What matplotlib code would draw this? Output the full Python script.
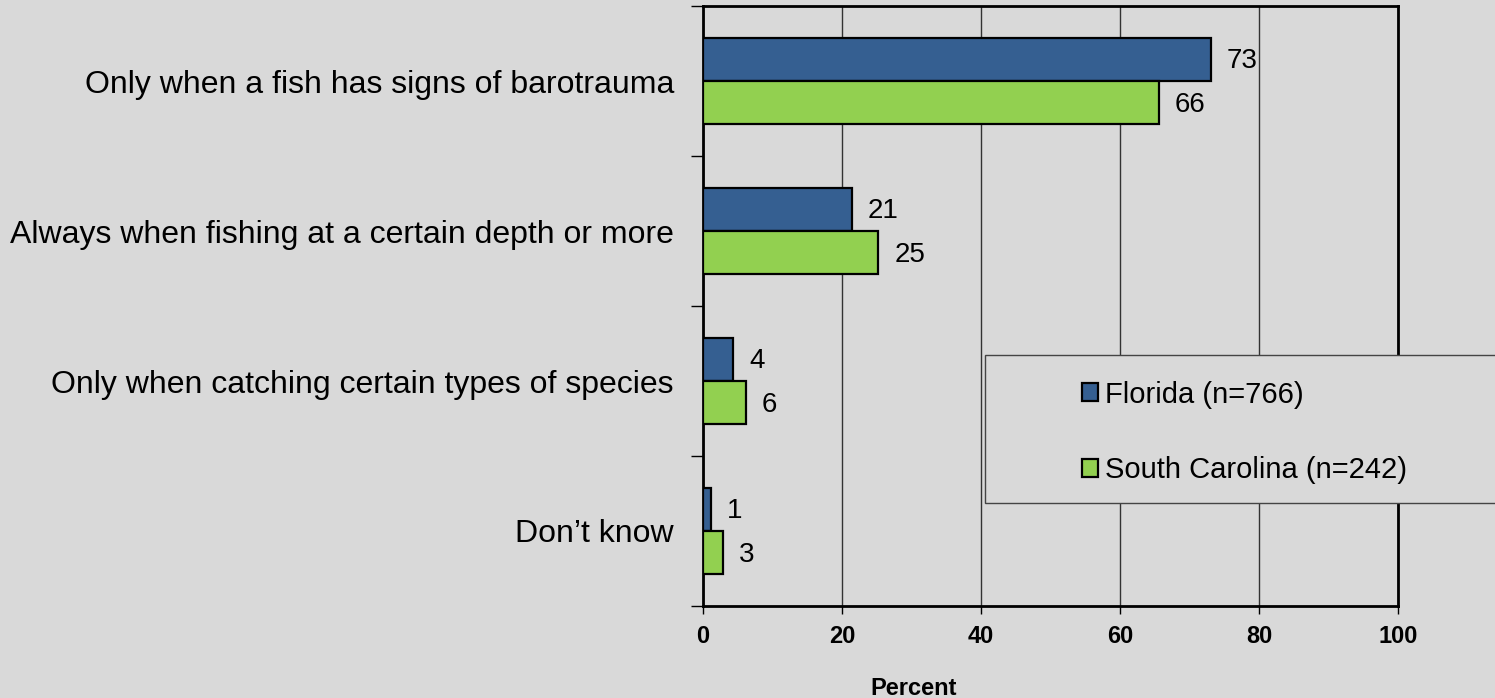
import matplotlib
matplotlib.use("Agg")
import matplotlib.pyplot as plt
import numpy as np
from matplotlib.patches import Rectangle

categories = ["Only when a fish has signs of barotrauma",
              "Always when fishing at a certain depth or more",
              "Only when catching certain types of species",
              "Don\u2019t know"]
florida = [73.1, 21.4, 4.3, 1.2]
south_carolina = [65.6, 25.2, 6.2, 2.9]
series_names = ["Florida (n=766)", "South Carolina (n=242)"]
xticks = [0, 20, 40, 60, 80, 100]

BG = "#D9D9D9"
BLUE = "#355F91"
GREEN = "#92D050"
FONT = "Liberation Sans"

plt.rcParams['font.family'] = [FONT, 'DejaVu Sans']

W, H = 1495, 698
fig = plt.figure(figsize=(W / 100, H / 100), dpi=100, facecolor=BG)
ax = fig.add_axes([703 / W, 1 - 606 / H, (1398 - 703) / W, (606 - 6) / H])
ax.set_facecolor(BG)

n = len(categories)
y = np.arange(n)
bh = 0.287
b1 = ax.barh(y - bh / 2, florida, height=bh, color=BLUE, edgecolor="black", linewidth=1.6, label=series_names[0], zorder=3)
b2 = ax.barh(y + bh / 2, south_carolina, height=bh, color=GREEN, edgecolor="black", linewidth=1.6, label=series_names[1], zorder=3)

for bars, vals in ((b1, florida), (b2, south_carolina)):
    for rect, v in zip(bars, vals):
        ax.annotate(f"{round(v):d}", xy=(v, rect.get_y() + rect.get_height() / 2),
                    xytext=(16, -2), textcoords="offset pixels",
                    ha="left", va="center", fontsize=20, color="black")

ax.set_xlim(0, 100)
ax.set_ylim(n - 0.5, -0.5)
ax.set_xticks(xticks)
ax.set_xticklabels([str(t) for t in xticks], fontsize=17, fontweight="bold")
ax.tick_params(axis="x", length=6, width=1, pad=7.7, direction="out")
ax.set_yticks(y)
ax.set_yticklabels(categories, fontsize=23)
ax.tick_params(axis="y", which="major", length=0, pad=20.9)
ax.set_yticks(np.arange(n + 1) - 0.5, minor=True)
ax.tick_params(axis="y", which="minor", length=9, width=1, direction="out")
ax.grid(axis="x", color="#333333", linewidth=1, zorder=0)
ax.set_axisbelow(True)
for s in ax.spines.values():
    s.set_linewidth(2)
    s.set_color("black")

ax.set_xlabel("Percent", fontsize=17, fontweight="bold")
ax.xaxis.set_label_coords((914 - 703) / (1398 - 703), -0.118)

# legend frame
fig.patches.append(Rectangle((985 / W, 1 - 503 / H), (1500 - 985) / W, (503 - 355) / H,
                             transform=fig.transFigure, facecolor=BG, edgecolor="#444444",
                             linewidth=1, zorder=5))
leg = fig.legend(handles=[b1, b2], labels=series_names, loc="upper left",
                 bbox_to_anchor=(1067 / W, 1 - 366 / H), frameon=False,
                 fontsize=21, handlelength=0.55, handleheight=0.55,
                 handletextpad=0.25, labelspacing=1.63, borderpad=0)
leg.set_zorder(6)

fig.savefig("out.png", dpi=100, facecolor=BG)
